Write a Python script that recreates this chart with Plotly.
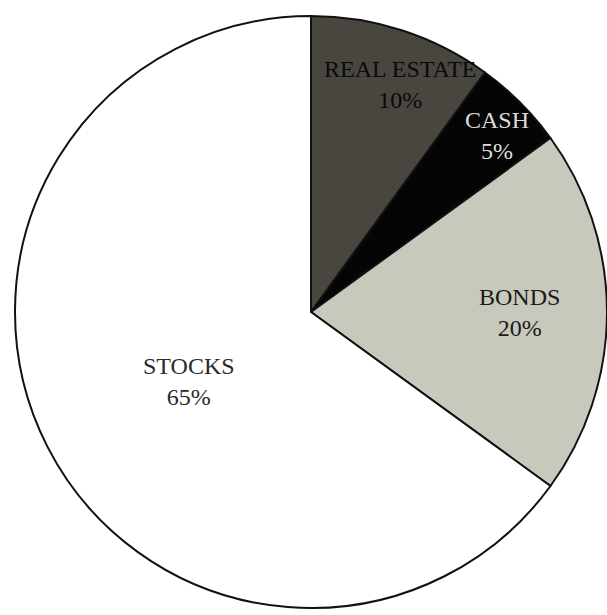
import math
import plotly.graph_objects as go

# ---- data ----
categories = ["REAL ESTATE", "CASH", "BONDS", "STOCKS"]
shares = [10, 5, 20, 65]
share_labels = ["10%", "5%", "20%", "65%"]

# ---- styling ----
colors = ["#48463f", "#050505", "#c9c8bd", "#ffffff"]
text_colors = ["#0a0a0a", "#dcdcdc", "#1a1a1a", "#2a2a2a"]
label_radius = [0.82, 0.86, 0.706, 0.49]   # fraction of radius where labels sit
label_xshift = [14, 6, 0, 7]
label_yshift = [-3, -4, 0, -4]

W, H = 607, 615
r = 296.0
cx, cy = W - r, 312.0   # pixel centre of the pie

fig = go.Figure(go.Pie(
    labels=categories,
    values=shares,
    sort=False,
    direction="clockwise",
    rotation=0,
    textinfo="none",
    hoverinfo="label+percent",
    marker=dict(colors=colors, line=dict(color="#111111", width=2)),
    domain=dict(x=[(cx - r) / W, 1.0],
                y=[1 - (cy + r) / H, 1 - (cy - r) / H]),
    showlegend=False,
))

total = sum(shares)
cum = 0
annotations = []
for name, v, lab, tc, rf, xs, ys in zip(categories, shares, share_labels,
                                        text_colors, label_radius,
                                        label_xshift, label_yshift):
    mid = (cum + v / 2) / total * 2 * math.pi
    cum += v
    px = cx + rf * r * math.sin(mid)
    py = cy - rf * r * math.cos(mid)
    annotations.append(dict(
        x=px / W, y=1 - py / H, xref="paper", yref="paper",
        xanchor="center", yanchor="middle",
        text=f"{name}<br>{lab}", showarrow=False, xshift=xs, yshift=ys,
        font=dict(family="Liberation Serif, Times New Roman, serif",
                  size=24, color=tc),
        align="center",
    ))

fig.update_layout(
    width=W, height=H,
    margin=dict(l=0, r=0, t=0, b=0),
    paper_bgcolor="white",
    plot_bgcolor="white",
    annotations=annotations,
)

fig.write_html(
    "out.html",
    config={"displayModeBar": False},
    post_script="document.body.style.margin='0';document.body.style.overflow='hidden';",
)
